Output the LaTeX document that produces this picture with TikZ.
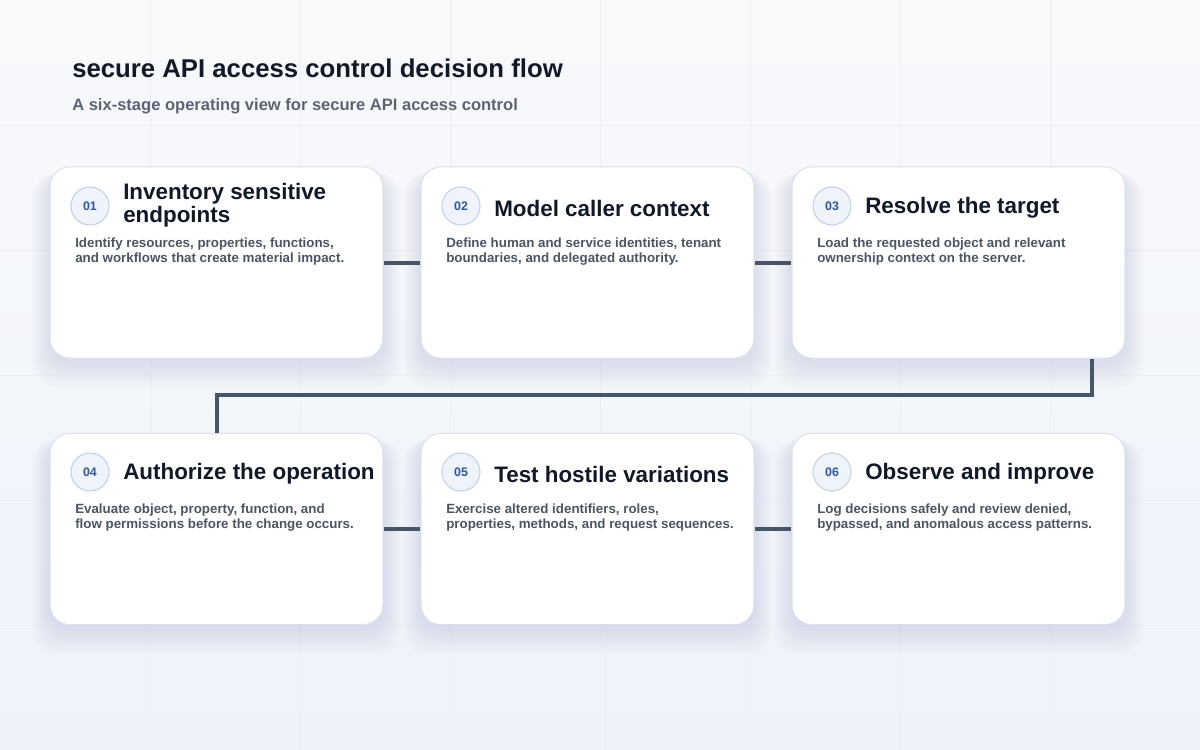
\documentclass[tikz,border=0pt]{standalone}
\usepackage{fontspec}
\setmainfont{Liberation Sans}
\definecolor{bgtop}{HTML}{F8F9FB}
\definecolor{bgbot}{HTML}{EEF3FB}
\definecolor{gridc}{HTML}{EBEFF5}
\definecolor{titlec}{HTML}{111827}
\definecolor{subc}{HTML}{5B6475}
\definecolor{bodyc}{HTML}{4B5563}
\definecolor{connc}{HTML}{475569}
\definecolor{cardline}{HTML}{DCE2EA}
\definecolor{numfill}{HTML}{EEF3FC}
\definecolor{numline}{HTML}{C3D0E8}
\definecolor{numtext}{HTML}{2F55A4}
\definecolor{shadowc}{HTML}{6A7BA0}
\newcommand\cardshadow[2]{%
  \foreach \i in {1,...,12} {%
    \fill[shadowc, opacity=0.013, rounded corners=18pt]
      (#1-166.5-\i*1.5, #2-95.5+6) rectangle (#1+166.5+\i*1.5, #2+95.5+4+\i*2.2);
  }}
\begin{document}
\begin{tikzpicture}[x=0.75pt,y=-0.75pt,
  gridline/.style={draw=gridc, line width=0.5pt},
  card/.style={draw=cardline, line width=0.8pt, fill=white, rounded corners=15pt,
    minimum width=249.75pt, minimum height=143.5pt, inner sep=0pt},
  numc/.style={circle, draw=numline, line width=0.8pt, fill=numfill, minimum size=28.5pt,
    inner sep=0pt, text=numtext, font=\fontsize{9.3}{10}\selectfont\bfseries},
  ttl/.style={anchor=west, inner sep=0pt, align=left, text=titlec,
    font=\fontsize{16.8}{17.4}\selectfont\bfseries},
  body/.style={anchor=north west, inner sep=0pt, align=left, text=bodyc,
    font=\fontsize{10}{11.25}\selectfont\bfseries},
  conn/.style={draw=connc, line width=3pt, line join=miter}]
\useasboundingbox (0,0) rectangle (1200,750);
\shade[top color=bgtop, bottom color=bgbot] (0,0) rectangle (1200,750);
\foreach \x in {150,300,...,1050} \draw[gridline] (\x,0) -- (\x,750);
\foreach \y in {125,250,...,625} \draw[gridline] (0,\y) -- (1200,\y);

\node[anchor=base west, inner sep=0pt, text=titlec, font=\fontsize{19.3}{22}\selectfont\bfseries]
  (title) at (72,77) {secure API access control decision flow};
\node[anchor=base west, inner sep=0pt, text=subc, font=\fontsize{12.4}{14}\selectfont\bfseries]
  (subtitle) at (72,110) {A six-stage operating view for secure API access control};

\cardshadow{216.5}{262.5}
\cardshadow{587.5}{262.5}
\cardshadow{958.5}{262.5}
\cardshadow{216.5}{529}
\cardshadow{587.5}{529}
\cardshadow{958.5}{529}

\node[card] (c1) at (216.5,262.5) {};
\node[card] (c2) at (587.5,262.5) {};
\node[card] (c3) at (958.5,262.5) {};
\node[card] (c4) at (216.5,529) {};
\node[card] (c5) at (587.5,529) {};
\node[card] (c6) at (958.5,529) {};

\node[numc] (n1) at (90,206) {01};
\node[numc] (n2) at (461,206) {02};
\node[numc] (n3) at (832,206) {03};
\node[numc] (n4) at (90,472) {04};
\node[numc] (n5) at (461,472) {05};
\node[numc] (n6) at (832,472) {06};

\node[ttl] (t1) at (123,205) {Inventory sensitive\\endpoints};
\node[ttl] (t2) at (494,208) {Model caller context};
\node[ttl] (t3) at (865,208) {Resolve the target};
\node[ttl] (t4) at (123,474) {Authorize the operation};
\node[ttl] (t5) at (494,474) {Test hostile variations};
\node[ttl] (t6) at (865,474) {Observe and improve};

\node[body] (b1) at (75,238) {Identify resources, properties, functions,\\and workflows that create material impact.};
\node[body] (b2) at (446,238) {Define human and service identities, tenant\\boundaries, and delegated authority.};
\node[body] (b3) at (817,238) {Load the requested object and relevant\\ownership context on the server.};
\node[body] (b4) at (75,504) {Evaluate object, property, function, and\\flow permissions before the change occurs.};
\node[body] (b5) at (446,504) {Exercise altered identifiers, roles,\\properties, methods, and request sequences.};
\node[body] (b6) at (817,504) {Log decisions safely and review denied,\\bypassed, and anomalous access patterns.};

\coordinate (turnA) at (1092,395);
\coordinate (turnB) at (216.5,395);
\draw[conn] (c1.east) -- (c2.west);
\draw[conn] (c2.east) -- (c3.west);
\draw[conn] (c3.south -| turnA) -- (turnA) -- (turnB) -- (c4.north);
\draw[conn] (c4.east) -- (c5.west);
\draw[conn] (c5.east) -- (c6.west);
\end{tikzpicture}
\end{document}
